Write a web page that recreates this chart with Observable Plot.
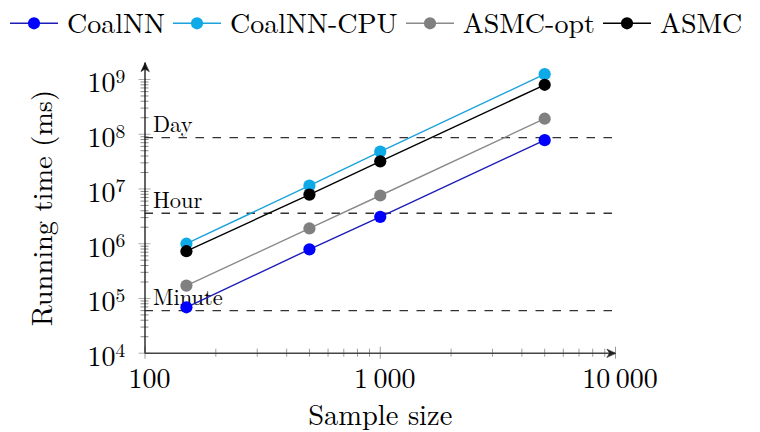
<!DOCTYPE html>
<html>
<head>
<meta charset="utf-8">
<script src="https://cdn.jsdelivr.net/npm/d3@7"></script>
<script src="https://cdn.jsdelivr.net/npm/@observablehq/plot@0.6"></script>
<style>
  html, body { margin: 0; padding: 0; background: #fff; }
  #wrap { width: 760px; height: 432px; overflow: hidden; font-family: "Latin Modern Roman", "Liberation Serif", serif; }
  #legend { height: 40px; display: flex; align-items: flex-start; padding-left: 10px; box-sizing: border-box; }
  #legend .sym { width: 48px; height: 40px; flex: none; margin-right: 9px; }
  #legend .lab { font-size: 28px; line-height: 40px; margin-right: 8px; white-space: nowrap; position: relative; top: 1px; color: #000; }
  #chart svg text { font-family: "Latin Modern Roman", "Liberation Serif", serif; }
</style>
</head>
<body>
<div id="wrap">
  <div id="legend"></div>
  <div id="chart"></div>
</div>
<script>
// ---- data ----
const sampleSizes = [150, 500, 1000, 5000];
const seriesNames = ["CoalNN", "CoalNN-CPU", "ASMC-opt", "ASMC"];
const coalnnTimes    = [6.9e4, 7.9e5, 3.1e6, 7.8e7];
const coalnnCpuTimes = [1.0e6, 1.15e7, 4.8e7, 1.25e9];
const asmcOptTimes   = [1.72e5, 1.9e6, 7.6e6, 1.92e8];
const asmcTimes      = [7.3e5, 7.9e6, 3.2e7, 8.0e8];
const seriesValues = [coalnnTimes, coalnnCpuTimes, asmcOptTimes, asmcTimes];
const lineColors = ["#1c1cb8", "#1ca2da", "#8a8a8a", "#000000"];
const dotColors  = ["#0000ff", "#0eaae8", "#808080", "#000000"];

const refNames  = ["Minute", "Hour", "Day"];
const refValues = [60000, 3600000, 86400000];

const xDomain = [100, 10000];
const yDomain = [1e4, 2e9];
const xMajorTicks = [100, 1000, 10000];
const xTickLabels = ["100", "1\u2009000", "10\u2009000"];
const xMinorTicks = [200, 300, 400, 500, 600, 700, 800, 900, 2000, 3000, 4000, 5000, 6000, 7000, 8000, 9000];
const yExponents = [4, 5, 6, 7, 8, 9];
const yMinorTicks = [];
for (const e of [4, 5, 6, 7, 8]) for (const m of [2, 3, 4, 5, 6, 7, 8, 9]) yMinorTicks.push(m * 10 ** e);
const xLabel = "Sample size";
const yLabel = "Running time (ms)";

// ---- table ----
const rows = [];
seriesNames.forEach((s, i) => sampleSizes.forEach((x, j) => rows.push({series: s, x, y: seriesValues[i][j]})));

// ---- legend ----
const legend = document.getElementById("legend");
seriesNames.forEach((s, i) => {
  const sym = document.createElementNS("http://www.w3.org/2000/svg", "svg");
  sym.setAttribute("class", "sym");
  sym.setAttribute("width", 48); sym.setAttribute("height", 40);
  sym.innerHTML = `<line x1="0" x2="48" y1="23.3" y2="23.3" stroke="${lineColors[i]}" stroke-width="1.4"/>` +
                  `<circle cx="24" cy="23.3" r="6.1" fill="${dotColors[i]}"/>`;
  legend.appendChild(sym);
  const lab = document.createElement("span");
  lab.className = "lab";
  lab.textContent = s;
  legend.appendChild(lab);
});

// ---- arrow head shape ----
const stealth = {
  draw(ctx) {
    ctx.moveTo(0, 0);
    ctx.lineTo(-4, 8.5);
    ctx.lineTo(0, 6);
    ctx.lineTo(4, 8.5);
    ctx.closePath();
  }
};

const seriesMarks = [];
seriesNames.forEach((s, i) => {
  const d = rows.filter(r => r.series === s);
  seriesMarks.push(Plot.line(d, {x: "x", y: "y", stroke: lineColors[i], strokeWidth: 1.4}));
  seriesMarks.push(Plot.dot(d, {x: "x", y: "y", r: 6.1, fill: dotColors[i], stroke: "none"}));
});

const chart = Plot.plot({
  width: 760,
  height: 392,
  marginLeft: 144.5,
  marginRight: 145,
  marginTop: 22.5,
  marginBottom: 79.3,
  style: {fontFamily: "'Latin Modern Roman', 'Liberation Serif', serif", background: "#fff", color: "#000", overflow: "visible"},
  x: {type: "log", domain: xDomain},
  y: {type: "log", domain: yDomain},
  marks: [
    // minor and major ticks
    Plot.axisX(xMinorTicks, {anchor: "bottom", tickSize: 8, dy: -4, fill: "none", stroke: "#9a9a9a", strokeWidth: 1, label: null}),
    Plot.axisX(xMajorTicks, {anchor: "bottom", tickSize: 12, dy: -6, fill: "none", stroke: "#9a9a9a", strokeWidth: 1, label: null}),
    Plot.axisY(yMinorTicks, {anchor: "left", tickSize: 8, dx: 4, fill: "none", stroke: "#8a8a8a", strokeWidth: 1, label: null}),
    Plot.axisY(yExponents.map(e => 10 ** e), {anchor: "left", tickSize: 12, dx: 6, fill: "none", stroke: "#aaaaaa", strokeWidth: 1, label: null}),
    // axis lines
    Plot.ruleY([yDomain[0]], {x1: xDomain[0], x2: xDomain[1], stroke: "#444", strokeWidth: 1.6}),
    Plot.ruleX([xDomain[0]], {y1: yDomain[0], y2: yDomain[1], stroke: "#111", strokeWidth: 1.3}),
    Plot.vector([xDomain[1]], {x: d => d, y: () => yDomain[0], rotate: 90, anchor: "start", shape: stealth, fill: "#222", stroke: "#222", strokeWidth: 0.6}),
    Plot.vector([yDomain[1]], {x: () => xDomain[0], y: d => d, rotate: 0, anchor: "start", shape: stealth, fill: "#111", stroke: "#111", strokeWidth: 0.6}),
    // tick labels
    Plot.text(xMajorTicks, {x: d => d, frameAnchor: "bottom", text: (d, i) => xTickLabels[i], textAnchor: "middle", lineAnchor: "bottom", dx: 4.5, dy: 35, fontSize: 28, fill: "#000"}),
    Plot.text(yExponents, {y: e => 10 ** e, frameAnchor: "left", text: () => "10", textAnchor: "end", lineAnchor: "bottom", dx: -29.5, dy: 12.8, fontSize: 28, fill: "#000"}),
    Plot.text(yExponents, {y: e => 10 ** e, frameAnchor: "left", text: e => String(e), textAnchor: "start", lineAnchor: "bottom", dx: -29.5, dy: 3.3, fontSize: 19.6, fill: "#000"}),
    // axis labels
    Plot.text([xLabel], {frameAnchor: "bottom", text: d => d, textAnchor: "middle", lineAnchor: "bottom", dy: 71.5, fontSize: 28.5, fill: "#000"}),
    Plot.text([yLabel], {frameAnchor: "left", text: d => d, rotate: -90, textAnchor: "middle", lineAnchor: "bottom", dx: -93, fontSize: 28.4, fill: "#000"}),
    // reference lines
    Plot.ruleY(refValues, {y: d => d, x1: xDomain[0], x2: xDomain[1], stroke: "#333", strokeWidth: 1.3, strokeDasharray: "8.5,8.5"}),
    Plot.text(refValues, {x: () => xDomain[0], y: d => d, text: (d, i) => refNames[i], textAnchor: "start", lineAnchor: "bottom", dx: 8, dy: -5.5, fontSize: 22.4, fill: "#000"}),
    // series
    ...seriesMarks
  ]
});
document.getElementById("chart").appendChild(chart);
</script>
</body>
</html>
